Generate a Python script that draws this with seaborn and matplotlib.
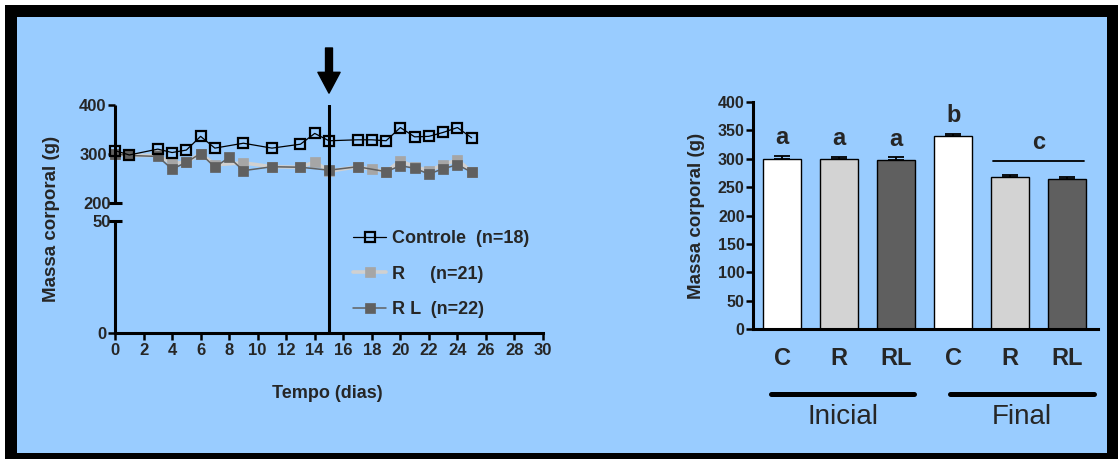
import numpy as np
import pandas as pd
import matplotlib
matplotlib.use("Agg")
import matplotlib.pyplot as plt
import seaborn as sns
from matplotlib.patches import Rectangle
from matplotlib.lines import Line2D
import matplotlib.transforms as mtransforms

# ---------------- data ----------------
days_c = [0, 1, 3, 4, 5, 6, 7, 9, 11, 13, 14, 15, 17, 18, 19, 20, 21, 22, 23, 24, 25]
mass_c = [307, 298, 310, 303, 308, 336, 312, 322, 312, 320, 342, 327, 329, 329, 327, 354, 335, 336, 344, 354, 333]
days_r = [0, 1, 3, 4, 5, 6, 7, 9, 11, 13, 14, 15, 17, 18, 19, 20, 21, 22, 23, 24, 25]
mass_r = [300, 297, 297, 281, 283, 301, 278, 282, 274, 273, 284, 265, 274, 269, 264, 286, 274, 266, 278, 288, 264]
days_rl = [0, 1, 3, 4, 5, 6, 7, 8, 9, 11, 13, 15, 17, 19, 20, 21, 22, 23, 24, 25]
mass_rl = [300, 297, 295, 269, 283, 301, 273, 293, 266, 274, 273, 267, 274, 264, 276, 271, 259, 270, 278, 263]
series_labels = ["Controle  (n=18)", "R     (n=21)", "R L  (n=22)"]
x_ticks = list(range(0, 31, 2))
y_ticks_major = [0, 300, 400]
y_ticks_break = [50, 200]
event_day = 15

bar_groups = ["C", "R", "RL", "C", "R", "RL"]
bar_periods = ["Inicial", "Inicial", "Inicial", "Final", "Final", "Final"]
bar_mean = [300, 299, 298, 339, 268, 265]
bar_sem = [5, 4, 4, 5, 3, 2.5]
bar_letters = ["a", "a", "a", "b", "", ""]
shared_letter = "c"
bar_yticks = list(range(0, 401, 50))

BLUE = "#99CCFF"
sns.set_theme(style="white")
plt.rcParams["font.family"] = ["Liberation Sans", "DejaVu Sans"]
plt.rcParams["font.weight"] = "bold"

W, H = 1118, 459
fig = plt.figure(figsize=(W / 100, H / 100), dpi=100)
fig.patch.set_facecolor("white")
fig.add_artist(Rectangle((5 / W, 0), 1 - 5 / W, (H - 5) / H, transform=fig.transFigure,
                         facecolor="black", edgecolor="none", zorder=-10))
fig.add_artist(Rectangle((17 / W, 6 / H), (1107 - 17) / W, (453 - 17) / H, transform=fig.transFigure,
                         facecolor=BLUE, edgecolor="none", zorder=-9))

# ---------------- left: time course with broken axis ----------------
bp = [-1e4, 0, 50, 200, 1e4]
fp = [-1e4 * 2.24, 0, 112, 130, 130 + (1e4 - 200) * 0.49]
def fwd(y):
    return np.interp(y, bp, fp)
def inv(v):
    return np.interp(v, fp, bp)

ax = fig.add_axes([115 / W, (H - 333) / H, 428 / W, 228 / H])
ax.set_facecolor("none")
ax.set_yscale("function", functions=(fwd, inv))

sns.lineplot(x=days_r, y=mass_r, ax=ax, color="#D0D0D0", lw=2.6, marker="s", ms=7.5,
             mfc="#A6A6A6", mec="#A6A6A6", mew=0.5, clip_on=False, label=series_labels[1], zorder=3)
sns.lineplot(x=days_rl, y=mass_rl, ax=ax, color="#606060", lw=1.1, marker="s", ms=7.5,
             mfc="#606060", mec="#606060", mew=0.5, clip_on=False, label=series_labels[2], zorder=4)
sns.lineplot(x=days_c, y=mass_c, ax=ax, color="black", lw=0.9, marker="s", ms=7.5,
             mfc="none", mec="black", mew=1.6, clip_on=False, label=series_labels[0], zorder=5)

ax.set_xlim(0, 30)
ax.set_ylim(0, 400)
ax.axvline(event_day, color="black", lw=2.2, zorder=6)
ax.annotate("", xy=(event_day, 1.052), xytext=(event_day, 1.25),
            xycoords=("data", "axes fraction"), textcoords=("data", "axes fraction"),
            arrowprops=dict(arrowstyle="simple,head_length=15,head_width=16,tail_width=5",
                            mutation_scale=1, color="black", shrinkA=0, shrinkB=0),
            annotation_clip=False)

for s in ["top", "right", "left"]:
    ax.spines[s].set_visible(False)
ax.spines["bottom"].set_linewidth(2.2)
ax.spines["bottom"].set_color("black")
ax.plot([0, 0], [0, y_ticks_break[0]], color="black", lw=2.2, clip_on=False, solid_capstyle="butt", zorder=7)
ax.plot([0, 0], [y_ticks_break[1], y_ticks_major[-1]], color="black", lw=2.2, clip_on=False,
        solid_capstyle="butt", zorder=7)

ax.set_xticks(x_ticks)
ax.set_xticklabels([str(t) for t in x_ticks])
ax.set_yticks(y_ticks_major)
ax.set_yticklabels([str(t) for t in y_ticks_major])
ax.set_yticks(y_ticks_break, minor=True)
ax.set_yticklabels([str(t) for t in y_ticks_break], minor=True)
ax.tick_params(axis="x", which="major", direction="out", length=5, width=1.8, color="black",
               labelsize=12, pad=2, bottom=True)
ax.tick_params(axis="y", which="major", direction="out", length=5, width=1.8, color="black",
               labelsize=12, pad=1, left=True)
ax.tick_params(axis="y", which="minor", direction="inout", length=10, width=2.2, color="black",
               labelsize=12, pad=-2, left=True)
for lab in ax.get_xticklabels() + ax.get_yticklabels() + ax.get_yticklabels(minor=True):
    lab.set_fontweight("bold")

ax.set_xlabel("Tempo (dias)", fontsize=13, fontweight="bold")
ax.xaxis.set_label_coords(0.495, -0.23)
ax.set_ylabel("Massa corporal (g)", fontsize=13.5, fontweight="bold")
ax.yaxis.set_label_coords(-0.128, 0.5)

handles, labels = ax.get_legend_handles_labels()
order = [labels.index(l) for l in series_labels]
leg = ax.legend([handles[i] for i in order], [labels[i] for i in order],
                loc="upper left", bbox_to_anchor=(0.556, 0.452), frameon=False,
                prop={"weight": "bold", "size": 13}, handlelength=1.85, handletextpad=0.3,
                labelspacing=1.03, borderpad=0, borderaxespad=0)

# ---------------- right: bar chart ----------------
ax2 = fig.add_axes([753 / W, (H - 329.3) / H, 345 / W, 227.6 / H])
ax2.set_facecolor("none")
keys = [p + " " + g for p, g in zip(bar_periods, bar_groups)]
df = pd.DataFrame({"key": keys, "mass": bar_mean})
colors = {"C": "white", "R": "#D3D3D3", "RL": "#5F5F5F"}
sns.barplot(data=df, x="key", y="mass", hue="key", order=keys,
            palette=[colors[g] for g in bar_groups], legend=False, width=0.667,
            edgecolor="black", linewidth=1.0, ax=ax2, errorbar=None)
pos = np.arange(len(keys))
ax2.errorbar(pos, bar_mean, yerr=[np.zeros(len(pos)), bar_sem], fmt="none", ecolor="black",
             elinewidth=1.3, capsize=6, capthick=1.3, zorder=5)
for i, (m, e, l) in enumerate(zip(bar_mean, bar_sem, bar_letters)):
    if l:
        ax2.annotate(l, (i, m + e), xytext=(0, 5), textcoords="offset points", ha="center",
                     va="bottom", fontsize=17, fontweight="bold")
c_idx = [i for i, l in enumerate(bar_letters) if not l]
c_y = 296
ax2.plot([c_idx[0] - 0.3, c_idx[-1] + 0.3], [c_y, c_y], color="black", lw=1.3)
ax2.annotate(shared_letter, ((c_idx[0] + c_idx[-1]) / 2, c_y), xytext=(0, 5),
             textcoords="offset points", ha="center", va="bottom", fontsize=17, fontweight="bold")

ax2.set_xlim(-0.51, 5.54)
ax2.set_ylim(0, 400)
ax2.set_yticks(bar_yticks)
ax2.set_yticklabels([str(t) for t in bar_yticks])
ax2.set_xticks(pos)
ax2.set_xticklabels(bar_groups)
ax2.tick_params(axis="y", direction="out", length=5, width=1.8, color="black", labelsize=11.5,
                pad=1, left=True)
ax2.tick_params(axis="x", length=0, labelsize=17, pad=13)
for lab in ax2.get_xticklabels() + ax2.get_yticklabels():
    lab.set_fontweight("bold")
for s in ["top", "right"]:
    ax2.spines[s].set_visible(False)
for s in ["left", "bottom"]:
    ax2.spines[s].set_linewidth(2.2)
    ax2.spines[s].set_color("black")
ax2.set_xlabel("")
ax2.set_ylabel("Massa corporal (g)", fontsize=13.5, fontweight="bold")
ax2.yaxis.set_label_coords(-0.139, 0.5)

trans = mtransforms.blended_transform_factory(ax2.transData, ax2.transAxes)
period_spans = {"Inicial": (-0.19, 2.32), "Final": (2.95, 5.47)}
for name, (x0, x1) in period_spans.items():
    ax2.add_line(Line2D([x0, x1], [-0.284, -0.284], transform=trans, color="black", lw=3.6,
                        clip_on=False))
    ax2.text((x0 + x1) / 2, -0.385, name, transform=trans, ha="center", va="center",
             fontsize=20, fontweight="normal", clip_on=False)

fig.savefig("out.png", dpi=100, facecolor=fig.get_facecolor())
